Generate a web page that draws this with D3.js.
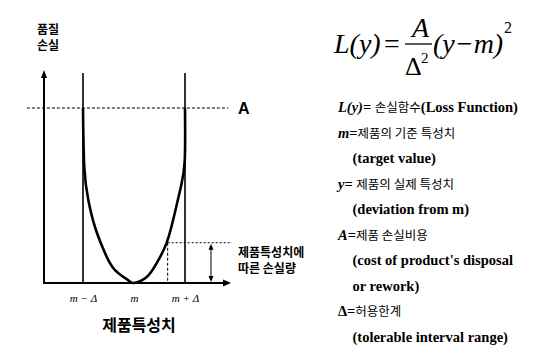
<!DOCTYPE html>
<meta charset="utf-8">
<style>
	body {
		margin: 0;
		background: #fff;
	}

</style>

<body>
	<script src="https://d3js.org/d3.v7.min.js"></script>
	<script>
		// x in units of delta around target m, loss in units of A
		var tickValues = [-1, 0, 1];
		var tickLabels = ["m \u2212 \u0394", "m", "m + \u0394"];

		// hand drawn loss curve
		var curveX = [-1.0, -0.975, -0.896, -0.765, -0.569, -0.373, -0.118, 0, 0.25, 0.445, 0.64, 0.80, 0.92, 0.995, 1.0];
		var curveY = [1.0, 0.663, 0.474, 0.32, 0.171, 0.074, 0.017, 0, 0.034, 0.114, 0.229, 0.40, 0.55, 0.70, 1.0];

		var lossA = 1;
		var limitTop = 1.2;
		var sampleX = 0.66;
		var sampleLoss = 0.23;

		var yTitle = ["품질", "손실"];
		var xTitle = "제품특성치";
		var sampleNote = ["제품특성치에", "따른 손실량"];

		var legendLines = [
			[["L(y)", "sym"], ["= ", "en"], ["손실함수", "ko"], ["(Loss Function)", "en"]],
			[["m", "sym"], ["=", "en"], ["제품의 기준 특성치", "ko"]],
			[["    (target value)", "en"]],
			[["y", "sym"], ["= ", "en"], ["제품의 실제 특성치", "ko"]],
			[["    (deviation from m)", "en"]],
			[["A", "it"], ["=", "en"], ["제품 손실비용", "ko"]],
			[["    (cost of product's disposal", "en"]],
			[["    or rework)", "en"]],
			[["\u0394", "en"], ["=", "en"], ["허용한계", "ko"]],
			[["    (tolerable interval range)", "en"]]
		];

		var serif = "'Liberation Serif'",
			gothic = "'Noto Sans CJK KR'";

		var width = 534,
			height = 360;

		var x = d3.scaleLinear()
			.domain([-1, 1])
			.range([83, 185]);

		var y = d3.scaleLinear()
			.domain([0, 1])
			.range([283, 108]);

		var svg = d3.select("body").append("svg")
			.attr("width", width)
			.attr("height", height);

		function head(px, py, dir, len, half) {
			// dir: "up", "down", "right"
			var p;
			if (dir == "up") p = [[px, py], [px - half, py + len], [px + half, py + len]];
			else if (dir == "down") p = [[px, py], [px - half, py - len], [px + half, py - len]];
			else p = [[px, py], [px - len, py - half], [px - len, py + half]];
			svg.append("path")
				.attr("d", "M" + p.join("L") + "Z")
				.attr("fill", "#000");
		}

		// axes
		var x0 = Math.round(x(-1.765)),
			xEnd = Math.round(x(1.9)),
			yTop = Math.round(y(1.22));

		svg.append("line")
			.attr("x1", x0).attr("x2", xEnd - 4)
			.attr("y1", y(0)).attr("y2", y(0))
			.attr("stroke", "#000").attr("stroke-width", 2.2);
		head(xEnd, y(0), "right", 8, 3.5);

		svg.append("line")
			.attr("x1", x0).attr("x2", x0)
			.attr("y1", y(0) + 1).attr("y2", yTop + 4)
			.attr("stroke", "#000").attr("stroke-width", 2);
		head(x0, yTop, "up", 8, 3);

		// tolerance limits
		svg.selectAll(".limit")
			.data([-1, 1])
			.enter().append("line")
			.attr("class", "limit")
			.attr("x1", function(d) { return x(d); })
			.attr("x2", function(d) { return x(d); })
			.attr("y1", y(0))
			.attr("y2", y(limitTop))
			.attr("stroke", "#000")
			.attr("stroke-width", 1.6);

		// level A
		svg.append("line")
			.attr("x1", x(-2.1)).attr("x2", x(1.85))
			.attr("y1", y(lossA)).attr("y2", y(lossA))
			.attr("stroke", "#000").attr("stroke-width", 1.1)
			.attr("stroke-dasharray", "3,2");

		svg.append("text")
			.attr("x", 238)
			.attr("y", y(lossA) + 6)
			.style("font-family", "'Liberation Sans'")
			.style("font-size", "16px")
			.style("font-weight", "bold")
			.text("A");

		// sample deviation
		svg.append("line")
			.attr("x1", x(sampleX)).attr("x2", x(sampleX))
			.attr("y1", y(sampleLoss)).attr("y2", y(0))
			.attr("stroke", "#000").attr("stroke-width", 1)
			.attr("stroke-dasharray", "3,2");

		svg.append("line")
			.attr("x1", x(sampleX)).attr("x2", x(1.92))
			.attr("y1", y(sampleLoss)).attr("y2", y(sampleLoss))
			.attr("stroke", "#000").attr("stroke-width", 1)
			.attr("stroke-dasharray", "2,2");

		var xa = Math.round(x(1.51));
		svg.append("line")
			.attr("x1", xa).attr("x2", xa)
			.attr("y1", y(0) - 5).attr("y2", y(sampleLoss) + 6)
			.attr("stroke", "#000").attr("stroke-width", 1);
		head(xa, y(sampleLoss) + 1, "up", 6, 2.5);
		head(xa, y(0) - 1, "down", 6, 2.5);

		// loss curve
		var curve = curveX.map(function(d, i) {
			return [d, curveY[i]];
		});

		var line = d3.line()
			.x(function(d) { return x(d[0]); })
			.y(function(d) { return y(d[1]); })
			.curve(d3.curveNatural);

		svg.append("path")
			.datum(curve)
			.attr("d", line)
			.attr("fill", "none")
			.attr("stroke", "#000")
			.attr("stroke-width", 2.6);

		// tick labels
		var xAxis = d3.axisBottom(x)
			.tickValues(tickValues)
			.tickSize(0)
			.tickPadding(0)
			.tickFormat(function(d, i) { return tickLabels[i]; });

		var gx = svg.append("g")
			.attr("transform", "translate(0,294)")
			.call(xAxis);
		gx.select(".domain").remove();
		gx.attr("font-family", null);
		gx.selectAll("text")
			.style("font-family", serif)
			.style("font-size", "11px")
			.style("font-style", "italic");

		svg.append("text")
			.attr("x", 139)
			.attr("y", 331)
			.attr("text-anchor", "middle")
			.style("font-family", gothic)
			.style("font-size", "16px")
			.style("font-weight", "bold")
			.text(xTitle);

		svg.selectAll(".ytitle")
			.data(yTitle)
			.enter().append("text")
			.attr("class", "ytitle")
			.attr("x", 48)
			.attr("y", function(d, i) { return 34 + i * 16; })
			.attr("text-anchor", "middle")
			.style("font-family", gothic)
			.style("font-size", "12px")
			.style("font-weight", "bold")
			.text(function(d) { return d; });

		svg.selectAll(".note")
			.data(sampleNote)
			.enter().append("text")
			.attr("class", "note")
			.attr("x", 238)
			.attr("y", function(d, i) { return 257 + i * 16; })
			.style("font-family", gothic)
			.style("font-size", "12px")
			.style("font-weight", "bold")
			.text(function(d) { return d; });

		// formula L(y) = A / delta^2 (y - m)^2
		function ftext(tx, ty, size, italic) {
			return svg.append("text")
				.attr("x", tx).attr("y", ty)
				.style("font-family", serif)
				.style("font-size", size + "px")
				.style("font-style", italic ? "italic" : "normal");
		}

		ftext(334, 53, 28, true).text("L(y)");
		ftext(384, 53, 28, false).text("=");
		ftext(412, 37, 28, true).text("A");
		svg.append("line")
			.attr("x1", 405).attr("x2", 432)
			.attr("y1", 44).attr("y2", 44)
			.attr("stroke", "#000").attr("stroke-width", 1.3);
		ftext(405, 75, 26, false).text("\u0394");
		ftext(421, 63, 15, false).text("2");
		ftext(433, 53, 28, true).text("(y\u2212m)");
		ftext(504, 33, 16, false).text("2");

		// legend of symbols
		var legend = svg.selectAll(".legend")
			.data(legendLines)
			.enter().append("text")
			.attr("class", "legend")
			.attr("x", 338)
			.attr("y", function(d, i) { return 112 + i * 25.5; })
			.attr("xml:space", "preserve");

		legend.selectAll("tspan")
			.data(function(d) { return d; })
			.enter().append("tspan")
			.style("font-family", function(d) { return d[1] == "ko" ? gothic : serif; })
			.style("font-weight", function(d) {
				return d[1] == "ko" ? "normal" : "bold";
			})
			.style("font-style", function(d) {
				return d[1] == "sym" || d[1] == "it" ? "italic" : "normal";
			})
			.style("font-size", function(d) {
				return d[1] == "ko" ? "12.5px" : "14.5px";
			})
			.text(function(d) { return d[0]; });

	</script>
